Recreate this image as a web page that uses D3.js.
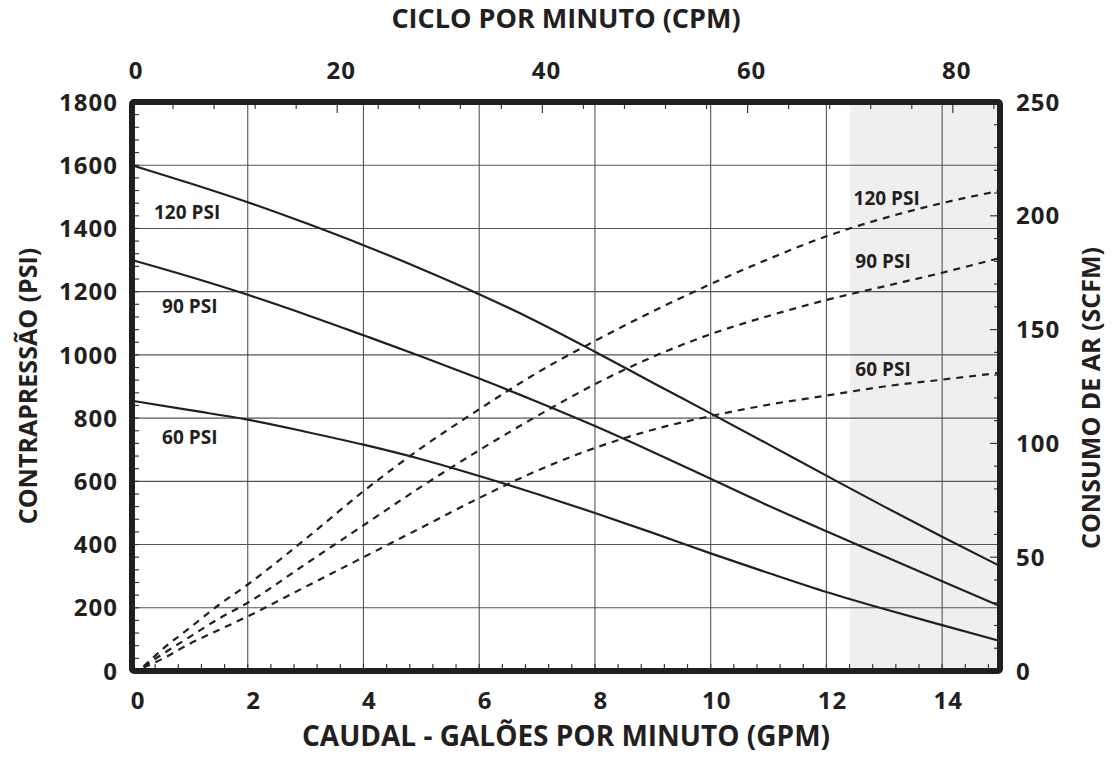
<!DOCTYPE html>
<html><head><meta charset="utf-8">
<script src="https://cdn.jsdelivr.net/npm/d3@7"></script>
<style>
body{margin:0;background:#fff;}
text{font-family:"Open Sans",sans-serif;font-weight:700;fill:#231f20;}
</style></head>
<body>
<svg id="c" width="1113" height="776"></svg>
<script>
// ---- data ----
const gpmPts = [0,1,2,3,4,5,6,7,8,9,10,11,12,13,14,15];
const psi120 = [1600,1543,1483,1417,1347,1272,1192,1105,1010,912,815,717,618,520,425,332];
const psi90  = [1300,1247,1190,1128,1062,995,925,852,775,693,608,523,442,363,284,205];
const psi60  = [855,825,795,757,716,670,617,560,500,437,372,310,250,196,145,95];

const airGpm  = [0.2,0.5,1,1.5,2,3,4,5,6,7,8,9,10,11,12,13,14,15];
const scfm120 = [2,9,19,29,38,58,79,98,115,131,145,158,170,181,191,199,205.6,211];
const scfm90  = [2,7,15,23,30,47,64,81,97,112,126,138,148,156,163,169,175,181.5];
const scfm60  = [1.5,5,12,18,24,37,50,63,76,88,98,106,112,117,121,125,128,131];

const gpmTicks  = [0,2,4,6,8,10,12,14];
const psiTicks  = [0,200,400,600,800,1000,1200,1400,1600,1800];
const scfmTicks = [0,50,100,150,200,250];
const cpmTicks  = [0,20,40,60,80];
const shadeFromCpm = 70;

const leftLabels  = [{t:"120 PSI",x:0.38,y:1450},{t:"90 PSI",x:0.52,y:1152},{t:"60 PSI",x:0.52,y:740}];
const rightLabels = [{t:"120 PSI",x:12.47,y:1495},{t:"90 PSI",x:12.5,y:1295},{t:"60 PSI",x:12.5,y:955}];

// ---- layout ----
const L=132,R=1000,T=102,B=671;
const svg=d3.select("#c");
const x=d3.scaleLinear().domain([0,15]).range([L,R]);
const xc=d3.scaleLinear().domain([0,84.6]).range([L,R]);
const yl=d3.scaleLinear().domain([0,1800]).range([B,T]);
const yr=d3.scaleLinear().domain([0,250]).range([B,T]);
const ink="#231f20";

// shade
svg.append("rect").attr("x",xc(shadeFromCpm)).attr("y",T).attr("width",R-xc(shadeFromCpm)).attr("height",B-T).attr("fill","#efefef");

// grid
const grid=svg.append("g").attr("stroke","#555").attr("stroke-width",1.1);
grid.selectAll("line.v").data(gpmTicks.filter(d=>d>0)).join("line")
  .attr("x1",d=>x(d)).attr("x2",d=>x(d)).attr("y1",T).attr("y2",B);
grid.selectAll("line.h").data(psiTicks.filter(d=>d>0&&d<1800)).join("line").attr("class","h")
  .attr("x1",L).attr("x2",R).attr("y1",d=>yl(d)).attr("y2",d=>yl(d));

// minor ticks (inward)
const tk=svg.append("g").attr("stroke","#3a3a3a").attr("stroke-width",1.2);
const botMinor=d3.range(0,15.01,0.4);
tk.selectAll("line.b").data(botMinor).join("line").attr("class","b")
  .attr("x1",d=>x(d)).attr("x2",d=>x(d)).attr("y1",B).attr("y2",B-7);
const leftMinor=d3.range(0,1800.1,40);
tk.selectAll("line.l").data(leftMinor).join("line").attr("class","l")
  .attr("x1",L).attr("x2",L+7).attr("y1",d=>yl(d)).attr("y2",d=>yl(d));
const rightMinor=d3.range(0,250.1,10);
tk.selectAll("line.r").data(rightMinor).join("line").attr("class","r")
  .attr("x1",R).attr("x2",d=>R-(d%50===0?10:6)).attr("y1",d=>yr(d)).attr("y2",d=>yr(d));
const topMinor=d3.range(0,84.6,4);
tk.selectAll("line.t").data(topMinor).join("line").attr("class","t")
  .attr("x1",d=>xc(d)).attr("x2",d=>xc(d)).attr("y1",T).attr("y2",d=>T+(d%20===0?11:7));

// curves
const solid=d3.line().x(d=>x(d[0])).y(d=>yl(d[1])).curve(d3.curveMonotoneX);
const dashed=d3.line().x(d=>x(d[0])).y(d=>yr(d[1])).curve(d3.curveMonotoneX);
[psi120,psi90,psi60].forEach(s=>{
  svg.append("path").attr("d",solid(gpmPts.map((g,i)=>[g,s[i]])))
    .attr("fill","none").attr("stroke",ink).attr("stroke-width",2.2);
});
[scfm120,scfm90,scfm60].forEach(s=>{
  svg.append("path").attr("d",dashed(airGpm.map((g,i)=>[g,s[i]])))
    .attr("fill","none").attr("stroke",ink).attr("stroke-width",2.2).attr("stroke-dasharray","7,6");
});

// frame
svg.append("rect").attr("x",L).attr("y",T).attr("width",R-L).attr("height",B-T)
  .attr("fill","none").attr("stroke",ink).attr("stroke-width",6).attr("rx",2);

// curve labels
svg.selectAll("text.ll").data(leftLabels).join("text")
  .attr("x",d=>x(d.x)).attr("y",d=>yl(d.y)).attr("dy","0.35em").attr("font-size",19).text(d=>d.t);
svg.selectAll("text.rl").data(rightLabels).join("text")
  .attr("x",d=>x(d.x)).attr("y",d=>yl(d.y)).attr("dy","0.35em").attr("font-size",19).text(d=>d.t);

// tick labels
const num={"font-size":24,"letter-spacing":"1px"};
function st(sel,o){Object.entries(o).forEach(([k,v])=>sel.attr(k,v));return sel;}
st(svg.selectAll("text.xb").data(gpmTicks).join("text").attr("class","xb")
  .attr("x",d=>x(d)+6).attr("y",709).attr("text-anchor","middle").text(d=>d),num);
st(svg.selectAll("text.xt").data(cpmTicks).join("text").attr("class","xt")
  .attr("x",d=>xc(d)+4).attr("y",79).attr("text-anchor","middle").text(d=>d),num);
st(svg.selectAll("text.yl").data(psiTicks).join("text").attr("class","yl")
  .attr("x",118).attr("y",d=>yl(d)).attr("dy","0.36em").attr("text-anchor","end").text(d=>d),num);
st(svg.selectAll("text.yr").data(scfmTicks).join("text").attr("class","yr")
  .attr("x",1016).attr("y",d=>yr(d)).attr("dy","0.36em").attr("text-anchor","start").text(d=>d),num);

// axis titles
svg.append("text").attr("x",566).attr("y",28).attr("text-anchor","middle").attr("font-size",27).text("CICLO POR MINUTO (CPM)");
svg.append("text").attr("x",566).attr("y",746).attr("text-anchor","middle").attr("font-size",28).text("CAUDAL - GALÕES POR MINUTO (GPM)");
svg.append("text").attr("transform","translate(37,386) rotate(-90)").attr("text-anchor","middle").attr("font-size",25).text("CONTRAPRESSÃO  (PSI)");
svg.append("text").attr("transform","translate(1100,398) rotate(-90)").attr("text-anchor","middle").attr("font-size",25).text("CONSUMO DE AR  (SCFM)");
</script>
</body></html>
